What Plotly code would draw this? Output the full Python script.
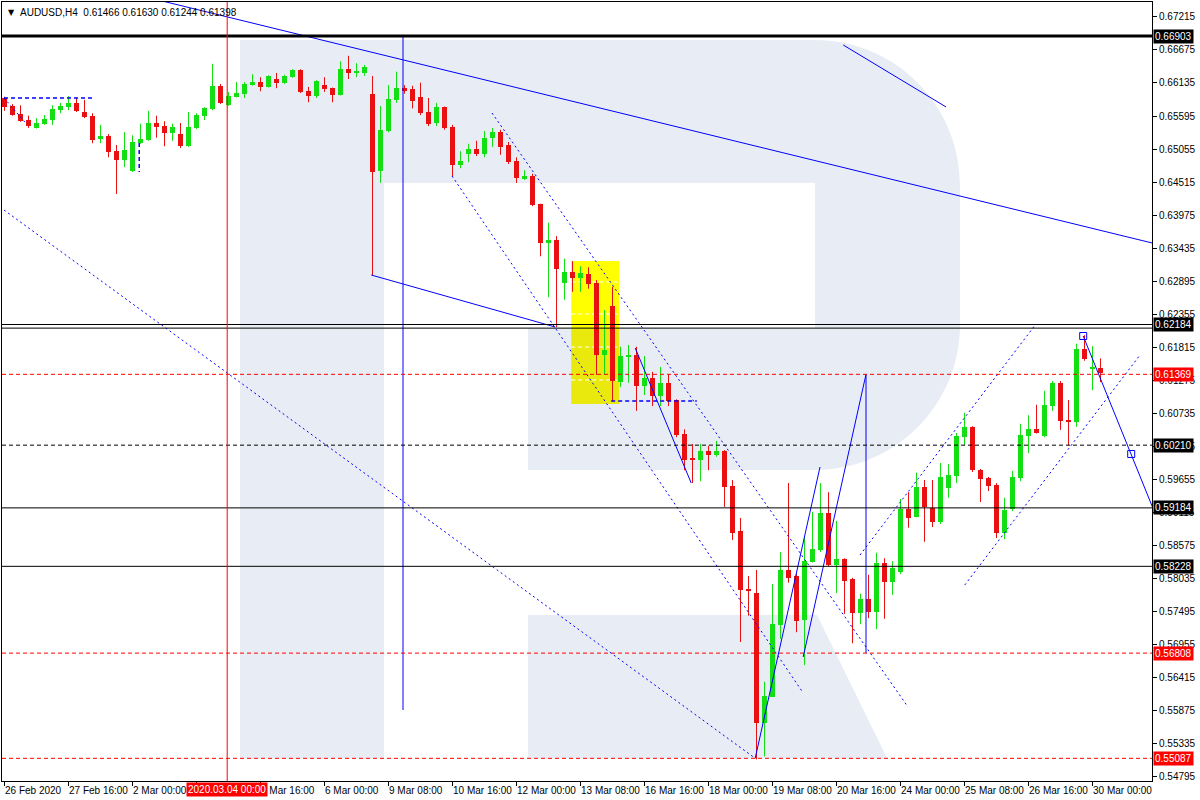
import plotly.graph_objects as go

# ---------------- data (AUDUSD, H4) ----------------
opens = [0.6589, 0.6576, 0.6563, 0.6553, 0.6540, 0.6546, 0.6553, 0.6569, 0.6574, 0.6581,
         0.6566, 0.6560, 0.6522, 0.6527, 0.6502, 0.6488, 0.6469, 0.6515, 0.6520, 0.6548,
         0.6543, 0.6532, 0.6530, 0.6510, 0.6540, 0.6560, 0.6571, 0.6609, 0.6577, 0.6591,
         0.6596, 0.6610, 0.6615, 0.6607, 0.6620, 0.6613, 0.6623, 0.6635, 0.6600, 0.6592,
         0.6610, 0.6605, 0.6594, 0.6636, 0.6630, 0.6630, 0.6596, 0.6470, 0.6535, 0.6586,
         0.6605, 0.6604, 0.6591, 0.6566, 0.6548, 0.6574, 0.6542, 0.6479, 0.6497, 0.6506,
         0.6497, 0.6524, 0.6533, 0.6512, 0.6486, 0.6458, 0.6461, 0.6416, 0.6352, 0.6357,
         0.6286, 0.6304, 0.6295, 0.6301, 0.6286, 0.6169, 0.6249, 0.6124, 0.6165, 0.6169,
         0.6118, 0.6131, 0.6101, 0.6123, 0.6095, 0.6039, 0.6000, 0.5997, 0.6011, 0.6005,
         0.6011, 0.5954, 0.5881, 0.5786, 0.5779, 0.5566, 0.5609, 0.5727, 0.5817, 0.5807,
         0.5735, 0.5830, 0.5849, 0.5910, 0.5825, 0.5835, 0.5802, 0.5746, 0.5769, 0.5748,
         0.5828, 0.5797, 0.5813, 0.5917, 0.5904, 0.5953, 0.5918, 0.5895, 0.5951, 0.5971,
         0.6034, 0.6051, 0.5980, 0.5967, 0.5956, 0.5877, 0.5916, 0.5967, 0.6036, 0.6047,
         0.6036, 0.6085, 0.6123, 0.6062, 0.6059, 0.6178, 0.6146, 0.61466]
highs = [0.6591, 0.6579, 0.6577, 0.6560, 0.6556, 0.6561, 0.6577, 0.6581, 0.6592, 0.6589,
         0.6586, 0.6564, 0.6545, 0.6530, 0.6512, 0.6533, 0.6528, 0.6547, 0.6568, 0.6560,
         0.6551, 0.6547, 0.6548, 0.6566, 0.6564, 0.6574, 0.6645, 0.6612, 0.6599, 0.6615,
         0.6615, 0.6628, 0.6623, 0.6626, 0.6630, 0.6627, 0.6636, 0.6636, 0.6607, 0.6618,
         0.6623, 0.6606, 0.6649, 0.6658, 0.6646, 0.6643, 0.6625, 0.6576, 0.6610, 0.6632,
         0.6610, 0.6609, 0.6614, 0.6589, 0.6581, 0.6575, 0.6545, 0.6502, 0.6514, 0.6519,
         0.6535, 0.6540, 0.6537, 0.6517, 0.6492, 0.6471, 0.6465, 0.6416, 0.6385, 0.6363,
         0.6326, 0.6322, 0.6314, 0.6312, 0.6291, 0.6242, 0.6280, 0.6182, 0.6185, 0.6182,
         0.6167, 0.6141, 0.6149, 0.6137, 0.6096, 0.6047, 0.6023, 0.6023, 0.6020, 0.6028,
         0.6013, 0.5964, 0.5902, 0.5807, 0.5817, 0.5634, 0.5794, 0.5846, 0.5959, 0.5810,
         0.5871, 0.5912, 0.5959, 0.5944, 0.5897, 0.5836, 0.5804, 0.5778, 0.5809, 0.5845,
         0.5836, 0.5831, 0.5933, 0.5944, 0.5976, 0.5964, 0.5964, 0.5992, 0.5990, 0.6041,
         0.6074, 0.6052, 0.5982, 0.5969, 0.5959, 0.5935, 0.5979, 0.6056, 0.6070, 0.6087,
         0.6110, 0.6126, 0.6126, 0.6095, 0.6187, 0.6201, 0.6183, 0.61630]
lows = [0.6568, 0.6560, 0.6550, 0.6540, 0.6539, 0.6545, 0.6545, 0.6564, 0.6569, 0.6566,
        0.6556, 0.6515, 0.6515, 0.6492, 0.6432, 0.6476, 0.6468, 0.6514, 0.6519, 0.6524,
        0.6510, 0.6519, 0.6507, 0.6509, 0.6538, 0.6553, 0.6569, 0.6579, 0.6576, 0.6590,
        0.6589, 0.6609, 0.6600, 0.6606, 0.6605, 0.6612, 0.6622, 0.6597, 0.6582, 0.6589,
        0.6599, 0.6582, 0.6593, 0.6620, 0.6623, 0.6625, 0.6299, 0.6450, 0.6533, 0.6581,
        0.6596, 0.6572, 0.6561, 0.6543, 0.6543, 0.6537, 0.6460, 0.6474, 0.6484, 0.6494,
        0.6492, 0.6509, 0.6496, 0.6481, 0.6450, 0.6455, 0.6412, 0.6330, 0.6263, 0.6214,
        0.6259, 0.6272, 0.6272, 0.6277, 0.6136, 0.6136, 0.6093, 0.6116, 0.6123, 0.6077,
        0.6103, 0.6085, 0.6085, 0.6085, 0.6034, 0.5980, 0.5959, 0.5962, 0.5980, 0.6002,
        0.5920, 0.5866, 0.5699, 0.5742, 0.5507, 0.5512, 0.5609, 0.5704, 0.5796, 0.5715,
        0.5661, 0.5829, 0.5846, 0.5823, 0.5779, 0.5745, 0.5697, 0.5728, 0.5738, 0.5720,
        0.5737, 0.5776, 0.5810, 0.5886, 0.5903, 0.5863, 0.5887, 0.5892, 0.5935, 0.5959,
        0.6021, 0.5977, 0.5928, 0.5946, 0.5869, 0.5867, 0.5913, 0.5962, 0.6008, 0.6040,
        0.6034, 0.6077, 0.6046, 0.6021, 0.6051, 0.6159, 0.6111, 0.61244]
closes = [0.6574, 0.6561, 0.6551, 0.6543, 0.6548, 0.6555, 0.6571, 0.6576, 0.6581, 0.6568,
          0.6558, 0.6520, 0.6527, 0.6501, 0.6488, 0.6504, 0.6517, 0.6522, 0.6548, 0.6542,
          0.6532, 0.6542, 0.6510, 0.6542, 0.6561, 0.6573, 0.6609, 0.6581, 0.6592, 0.6597,
          0.6612, 0.6615, 0.6607, 0.6625, 0.6613, 0.6625, 0.6635, 0.6599, 0.6592, 0.6617,
          0.6604, 0.6594, 0.6636, 0.6630, 0.6632, 0.6640, 0.6468, 0.6537, 0.6587, 0.6605,
          0.6602, 0.6584, 0.6564, 0.6546, 0.6574, 0.6540, 0.6479, 0.6486, 0.6506, 0.6497,
          0.6524, 0.6533, 0.6509, 0.6484, 0.6458, 0.6461, 0.6414, 0.6352, 0.6357, 0.6309,
          0.6304, 0.6295, 0.6303, 0.6285, 0.6169, 0.6177, 0.6126, 0.6167, 0.6169, 0.6118,
          0.6131, 0.6101, 0.6123, 0.6093, 0.6038, 0.5997, 0.5997, 0.6011, 0.6005, 0.6011,
          0.5953, 0.5877, 0.5784, 0.5784, 0.5566, 0.5611, 0.5728, 0.5817, 0.5804, 0.5733,
          0.5831, 0.5851, 0.5910, 0.5825, 0.5835, 0.5799, 0.5746, 0.5769, 0.5748, 0.5828,
          0.5797, 0.5820, 0.5917, 0.5902, 0.5953, 0.5920, 0.5895, 0.5969, 0.5972, 0.6036,
          0.6051, 0.5980, 0.5966, 0.5954, 0.5877, 0.5915, 0.5969, 0.6038, 0.6047, 0.6041,
          0.6087, 0.6123, 0.6061, 0.6060, 0.6178, 0.6162, 0.6147, 0.61398]

time_tick_bars = [0, 8, 16, 24, 32, 40, 48, 56, 64, 72, 80, 88, 96, 104, 112, 120, 128, 136]
time_tick_text = ["26 Feb 2020", "27 Feb 16:00", "2 Mar 00:00", "3 Mar 08:00", "4 Mar 16:00",
                  "6 Mar 00:00", "9 Mar 08:00", "10 Mar 16:00", "12 Mar 00:00", "13 Mar 08:00",
                  "16 Mar 16:00", "18 Mar 00:00", "19 Mar 08:00", "20 Mar 16:00", "24 Mar 00:00",
                  "25 Mar 08:00", "26 Mar 16:00", "30 Mar 00:00"]
price_ticks = [0.67215, 0.66675, 0.66135, 0.65595, 0.65055, 0.64515, 0.63975, 0.63435,
               0.62895, 0.62355, 0.61815, 0.61275, 0.60735, 0.60195, 0.59655, 0.59115,
               0.58575, 0.58035, 0.57495, 0.56955, 0.56415, 0.55875, 0.55335, 0.54795]

# horizontal levels: value, colour, dash, width, label background (None = no label)
level_values = [0.66903, 0.62184, 0.62125, 0.61369, 0.60210, 0.59184, 0.58228, 0.56808, 0.55087]
level_colors = ["black", "black", "black", "#FF0000", "black", "black", "black", "#FF0000", "#FF0000"]
level_dashes = ["solid", "solid", "solid", "4px,3px", "4px,3px", "solid", "solid", "4px,3px", "4px,3px"]
level_widths = [3, 1, 1, 1, 1, 1, 1, 1, 1]
level_label_bg = ["black", "black", None, "#FF0000", "black", "black", "black", "#FF0000", "#FF0000"]

# analyst drawings (bar index, price)
solid_lines = [
    ([15.0, 145.0], [0.67629, 0.63470]),
    ([104.9, 117.75], [0.66757, 0.65743]),
    ([45.9, 68.9], [0.62994, 0.62143]),
    ([49.875, 49.875], [0.66900, 0.55877]),
    ([78.9, 85.9], [0.61800, 0.59591]),
    ([93.9, 102.0], [0.55087, 0.59853]),
    ([99.9, 107.75, 107.75], [0.56745, 0.61369, 0.56808]),
    ([134.9, 140.9, 143.6], [0.61996, 0.60066, 0.59184]),
]
dotted_lines = [
    ([0.0, 93.9], [0.64057, 0.55087]),
    ([56.0, 99.9], [0.64614, 0.56156]),
    ([61.0, 113.0], [0.65644, 0.55927]),
    ([107.0, 128.9], [0.58413, 0.62176]),
    ([120.1, 142.0], [0.57923, 0.61685]),
    ([0.0, 2.6], [0.65890, 0.65497]),
]
dashed_lines = [
    ([0.0, 11.0], [0.65890, 0.65890]),
    ([16.9, 16.9], [0.65154, 0.64679]),
    ([75.9, 86.6], [0.60933, 0.60933]),
]
marker_bars = [134.9, 140.9]
marker_prices = [0.61996, 0.60066]

yellow_box = (70.9, 76.9, 0.63223, 0.60884)
yellow_split = 0.62127
yellow_levels = [0.62880, 0.62356, 0.61816, 0.61276]

# ---------------- layout geometry ----------------
W, H = 1200, 800
ML, MR, MT, MB = 2, 48, 2, 19
PW, PH = W - ML - MR, H - MT - MB
X_RANGE = [-0.25, 143.5]
Y_RANGE = [0.54716, 0.67460]
FONT = "Liberation Sans, Arial, sans-serif"
BULL, BEAR = "#12E012", "#E81010"
WM = "#E8EDF5"
OFF = 0.0625


def pp(x, y):
    return (x - ML) / PW, 1 - (y - MT) / PH


def path(cmds):
    out = []
    for cmd, pts in cmds:
        if cmd == "Z":
            out.append("Z")
        elif cmd == "C":
            out.append("C " + " ".join("%.5f,%.5f" % pp(*p) for p in pts))
        else:
            for p in pts:
                out.append(cmd + " %.5f,%.5f" % pp(*p))
    return " ".join(out)


fig = go.Figure()

# candles
n = len(opens)
for is_bull, col in [(True, BULL), (False, BEAR)]:
    idx = [i for i in range(n) if (closes[i] >= opens[i]) == is_bull]
    bx = [i + OFF for i in idx]
    base = [min(opens[i], closes[i]) for i in idx]
    hgt = [max(abs(closes[i] - opens[i]), 0.00017) for i in idx]
    wx, wy = [], []
    for i in idx:
        wx += [i + OFF, i + OFF, None]
        wy += [lows[i], highs[i], None]
    fig.add_trace(go.Scatter(x=wx, y=wy, mode="lines", line=dict(color=col, width=1),
                             hoverinfo="skip", showlegend=False))
    fig.add_trace(go.Bar(x=bx, y=hgt, base=base, width=0.625, marker=dict(color=col, line=dict(width=0)),
                         hoverinfo="skip", showlegend=False))

for xs, ys in solid_lines:
    fig.add_trace(go.Scatter(x=xs, y=ys, mode="lines", line=dict(color="#0000FF", width=1),
                             hoverinfo="skip", showlegend=False))
for xs, ys in dotted_lines:
    fig.add_trace(go.Scatter(x=xs, y=ys, mode="lines", line=dict(color="#0000FF", width=1, dash="2px,3px"),
                             hoverinfo="skip", showlegend=False))
for xs, ys in dashed_lines:
    fig.add_trace(go.Scatter(x=xs, y=ys, mode="lines", line=dict(color="#0000FF", width=1.5, dash="4px,3px"),
                             hoverinfo="skip", showlegend=False))
fig.add_trace(go.Scatter(x=marker_bars, y=marker_prices, mode="markers",
                         marker=dict(symbol="square-open", size=7, color="#0000FF", line=dict(width=1)),
                         hoverinfo="skip", showlegend=False))

shapes = []
# watermark "R"
shapes.append(dict(type="rect", xref="paper", yref="paper", layer="below",
                   x0=pp(240, 40)[0], y0=pp(240, 40)[1], x1=pp(384, 758)[0], y1=pp(384, 758)[1],
                   fillcolor=WM, line=dict(width=0)))
k = 80
bowl = path([("M", [(384, 40)]), ("L", [(815, 40)]),
             ("C", [(815 + k, 40), (960, 185 - k), (960, 185)]),
             ("L", [(960, 325)]),
             ("C", [(960, 325 + k), (815 + k, 470), (815, 470)]),
             ("L", [(528, 470), (528, 328), (815, 328), (815, 183), (384, 183)]), ("Z", [])])
shapes.append(dict(type="path", xref="paper", yref="paper", layer="below", path=bowl,
                   fillcolor=WM, line=dict(width=0)))
leg = path([("M", [(528, 615)]), ("L", [(817, 615), (887, 758), (528, 758)]), ("Z", [])])
shapes.append(dict(type="path", xref="paper", yref="paper", layer="below", path=leg,
                   fillcolor=WM, line=dict(width=0)))

# yellow box
x0, x1, ytop, ybot = yellow_box
shapes.append(dict(type="rect", xref="x", yref="y", layer="below", x0=x0, x1=x1, y0=yellow_split, y1=ytop,
                   fillcolor="#FFFF00", line=dict(width=0)))
shapes.append(dict(type="rect", xref="x", yref="y", layer="below", x0=x0, x1=x1, y0=ybot, y1=yellow_split,
                   fillcolor="#E9E90E", line=dict(width=0)))
for lv in yellow_levels:
    shapes.append(dict(type="line", xref="x", yref="y", layer="below", x0=x0, x1=x1, y0=lv, y1=lv,
                       line=dict(color="white", width=1, dash="4px,3px")))

# horizontal levels
for v, c, d, w in zip(level_values, level_colors, level_dashes, level_widths):
    shapes.append(dict(type="line", xref="paper", yref="y", layer="above", x0=0, x1=1, y0=v, y1=v,
                       line=dict(color=c, width=w, dash=d)))

# crosshair
shapes.append(dict(type="line", xref="x", yref="paper", layer="above", x0=27.9, x1=27.9, y0=0, y1=1,
                   line=dict(color="#FF0000", width=1)))

annotations = []
for v, bg in zip(level_values, level_label_bg):
    if bg is None:
        continue
    annotations.append(dict(x=1, xref="paper", xanchor="left", xshift=1, y=v, yref="y", yanchor="middle",
                            text="%.5f" % v, showarrow=False, bgcolor=bg, borderpad=1,
                            font=dict(family=FONT, size=10, color="white")))
annotations.append(dict(x=27.9, xref="x", y=0, yref="paper", yanchor="top", yshift=-1, xanchor="center",
                        text="2020.03.04 00:00", showarrow=False, bgcolor="#FF0000", borderpad=1,
                        font=dict(family=FONT, size=10, color="white")))
annotations.append(dict(x=0, xref="paper", xanchor="left", xshift=4, y=1, yref="paper", yanchor="top",
                        yshift=-4, text="▼", showarrow=False,
                        font=dict(family="DejaVu Sans", size=8, color="black")))
annotations.append(dict(x=0, xref="paper", xanchor="left", xshift=16, y=1, yref="paper", yanchor="top",
                        yshift=-3, text="AUDUSD,H4  %.5f %.5f %.5f %.5f" % (opens[-1], highs[-1], lows[-1], closes[-1]),
                        showarrow=False, font=dict(family=FONT, size=10, color="black")))

fig.update_layout(
    width=W, height=H, margin=dict(l=ML, r=MR, t=MT, b=MB, autoexpand=False),
    plot_bgcolor="white", paper_bgcolor="white",
    barmode="overlay", bargap=0, showlegend=False,
    shapes=shapes, annotations=annotations,
    xaxis=dict(range=X_RANGE, showgrid=False, zeroline=False, showline=True, mirror=True,
               linecolor="black", linewidth=1, tickmode="array", tickvals=time_tick_bars,
               ticktext=time_tick_text, ticks="outside", ticklen=4, tickcolor="black",
               ticklabelposition="outside right", tickangle=0, automargin=False,
               tickfont=dict(family=FONT, size=10, color="black"), fixedrange=True),
    yaxis=dict(range=Y_RANGE, side="right", showgrid=False, zeroline=False, showline=True, mirror=True,
               linecolor="black", linewidth=1, tickmode="array", tickvals=price_ticks,
               ticktext=["%.5f" % v for v in price_ticks], ticks="outside", ticklen=4, tickcolor="black",
               automargin=False,
               tickfont=dict(family=FONT, size=10, color="black"), fixedrange=True),
)

fig.write_html("out.html", config={"displayModeBar": False},
               post_script="document.body.style.margin='0px';document.body.style.overflow='hidden';")
